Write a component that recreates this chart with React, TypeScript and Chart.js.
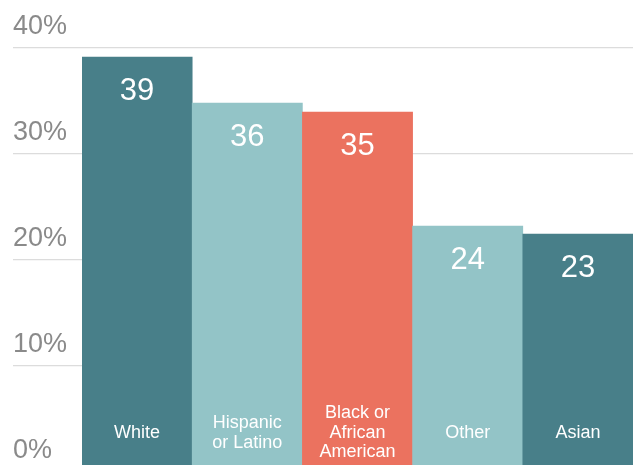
import React, { useEffect, useRef } from "react";
import { Chart, registerables } from "chart.js";

Chart.register(...registerables);

const categories: string[][] = [["White"], ["Hispanic", "or Latino"], ["Black or", "African", "American"], ["Other"], ["Asian"]];
const barValues: number[] = [39.15, 34.8, 33.95, 23.2, 22.45];
const valueLabels: string[] = ["39", "36", "35", "24", "23"];
const barColors: string[] = ["#487f89", "#93c4c7", "#eb725f", "#93c4c7", "#487f89"];
const yTicks: number[] = [0, 10, 20, 30, 40];

const FONT = "'Liberation Sans', Arial, Helvetica, sans-serif";

const labelPlugin = {
  id: "barLabels",
  afterDatasetsDraw(chart: any) {
    const ctx = chart.ctx;
    const meta = chart.getDatasetMeta(0);
    const area = chart.chartArea;
    ctx.save();
    ctx.fillStyle = "#ffffff";
    ctx.textAlign = "center";
    ctx.textBaseline = "middle";
    meta.data.forEach((el: any, i: number) => {
      ctx.font = `31px ${FONT}`;
      ctx.fillText(valueLabels[i], el.x, el.y + 34);
      ctx.font = `18px ${FONT}`;
      const lines = categories[i];
      const lh = 19.5;
      const cy = area.bottom - 32;
      const start = cy - ((lines.length - 1) * lh) / 2;
      lines.forEach((ln, j) => ctx.fillText(ln, el.x, start + j * lh));
    });
    ctx.restore();
  },
};

export default function App() {
  const ref = useRef<HTMLCanvasElement | null>(null);
  useEffect(() => {
    document.body.style.margin = "0";
    document.body.style.overflow = "hidden";
    const chart = new Chart(ref.current as HTMLCanvasElement, {
      type: "bar",
      data: {
        labels: categories.map((c) => c.join(" ")),
        datasets: [
          {
            data: barValues,
            backgroundColor: barColors,
            borderWidth: 0,
            barPercentage: 1,
            categoryPercentage: 1,
          },
        ],
      },
      options: {
        animation: false,
        responsive: false,
        layout: { autoPadding: false, padding: { left: 13, right: 0, top: 0, bottom: 0 } },
        plugins: { legend: { display: false }, tooltip: { enabled: false } },
        scales: {
          x: { display: false },
          y: {
            min: 0.66,
            max: 44.53,
            afterFit(scale: any) {
              scale.width = 69;
              scale.paddingTop = 0;
              scale.paddingBottom = 0;
              scale.paddingLeft = 0;
              scale.paddingRight = 0;
            },
            afterBuildTicks(scale: any) {
              scale.ticks = yTicks.map((v) => ({ value: v }));
            },
            border: { display: false },
            grid: {
              color: "#dcdcdc",
              lineWidth: 1.2,
              drawTicks: true,
              tickLength: 69,
              tickColor: "#dcdcdc",
            },
            ticks: {
              autoSkip: false,
              crossAlign: "far",
              labelOffset: -21,
              padding: 0,
              color: "#8a8a8a",
              font: { family: FONT, size: 27 },
              callback: (v: any) => `${v}%`,
            },
          },
        },
      },
      plugins: [labelPlugin],
    } as any);
    return () => chart.destroy();
  }, []);
  return (
    <div style={{ width: 633, height: 465, overflow: "hidden" }}>
      <canvas ref={ref} width={633} height={465} />
    </div>
  );
}
